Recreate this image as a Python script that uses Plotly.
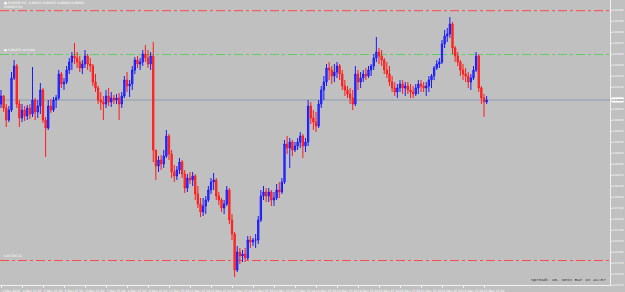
import plotly.graph_objects as go

# ---- data (EURGBP H1-style, 2-hour bars) ----
opens = [0.8896,0.8904,0.8892,0.8880,0.8890,0.8922,0.8934,0.8896,0.8882,0.8890,
0.8884,0.8892,0.8886,0.8900,0.8888,0.8894,0.8910,0.8880,0.8872,0.8894,
0.8890,0.8900,0.8902,0.8926,0.8916,0.8918,0.8930,0.8938,0.8944,0.8942,
0.8938,0.8932,0.8936,0.8944,0.8936,0.8934,0.8918,0.8912,0.8900,0.8898,
0.8896,0.8904,0.8898,0.8902,0.8900,0.8902,0.8896,0.8904,0.8920,0.8914,
0.8916,0.8930,0.8940,0.8936,0.8938,0.8946,0.8942,0.8936,0.8944,0.8850,
0.8834,0.8840,0.8836,0.8844,0.8864,0.8846,0.8828,0.8824,0.8830,0.8838,
0.8826,0.8812,0.8822,0.8820,0.8824,0.8806,0.8796,0.8788,0.8794,0.8800,
0.8810,0.8818,0.8820,0.8804,0.8800,0.8792,0.8796,0.8810,0.8780,0.8766,
0.8730,0.8748,0.8744,0.8746,0.8742,0.8760,0.8758,0.8760,0.8760,0.8780,
0.8804,0.8808,0.8804,0.8808,0.8800,0.8802,0.8810,0.8808,0.8818,0.8856,
0.8852,0.8858,0.8850,0.8854,0.8858,0.8864,0.8854,0.8858,0.8894,0.8882,
0.8878,0.8874,0.8896,0.8910,0.8918,0.8932,0.8930,0.8924,0.8928,0.8934,
0.8926,0.8914,0.8910,0.8906,0.8902,0.8896,0.8926,0.8918,0.8922,0.8926,
0.8924,0.8930,0.8934,0.8942,0.8948,0.8944,0.8940,0.8930,0.8926,0.8918,
0.8912,0.8908,0.8912,0.8916,0.8912,0.8914,0.8910,0.8908,0.8906,0.8912,
0.8916,0.8914,0.8912,0.8914,0.8920,0.8924,0.8932,0.8936,0.8938,0.8956,
0.8964,0.8966,0.8976,0.8952,0.8944,0.8938,0.8930,0.8926,0.8924,0.8918,
0.8922,0.8930,0.8944,0.8912,0.8902,0.8898]

closes = [0.8904,0.8892,0.8880,0.8890,0.8922,0.8934,0.8896,0.8882,0.8890,0.8884,
0.8892,0.8886,0.8900,0.8888,0.8894,0.8910,0.8880,0.8872,0.8894,0.8890,
0.8900,0.8902,0.8926,0.8916,0.8918,0.8930,0.8938,0.8944,0.8942,0.8938,
0.8932,0.8936,0.8944,0.8936,0.8934,0.8918,0.8912,0.8900,0.8898,0.8896,
0.8904,0.8898,0.8902,0.8900,0.8902,0.8896,0.8904,0.8920,0.8914,0.8916,
0.8930,0.8940,0.8936,0.8938,0.8946,0.8942,0.8936,0.8944,0.8850,0.8834,
0.8840,0.8836,0.8844,0.8864,0.8846,0.8828,0.8824,0.8830,0.8838,0.8826,
0.8812,0.8822,0.8820,0.8824,0.8806,0.8796,0.8788,0.8794,0.8800,0.8810,
0.8818,0.8820,0.8804,0.8800,0.8792,0.8796,0.8810,0.8780,0.8766,0.8730,
0.8748,0.8744,0.8746,0.8742,0.8760,0.8758,0.8760,0.8760,0.8780,0.8804,
0.8808,0.8804,0.8808,0.8800,0.8802,0.8810,0.8808,0.8818,0.8856,0.8852,
0.8858,0.8850,0.8854,0.8858,0.8864,0.8854,0.8858,0.8894,0.8882,0.8878,
0.8874,0.8896,0.8910,0.8918,0.8932,0.8930,0.8924,0.8928,0.8934,0.8926,
0.8914,0.8910,0.8906,0.8902,0.8896,0.8926,0.8918,0.8922,0.8926,0.8924,
0.8930,0.8934,0.8942,0.8948,0.8944,0.8940,0.8930,0.8926,0.8918,0.8912,
0.8908,0.8912,0.8916,0.8912,0.8914,0.8910,0.8908,0.8906,0.8912,0.8916,
0.8914,0.8912,0.8914,0.8920,0.8924,0.8932,0.8936,0.8938,0.8956,0.8964,
0.8966,0.8976,0.8952,0.8944,0.8938,0.8930,0.8926,0.8924,0.8918,0.8922,
0.8930,0.8944,0.8912,0.8902,0.8898,0.8900]

highs = [0.8910,0.8905,0.8896,0.8894,0.8928,0.8940,0.8936,0.8900,0.8896,0.8894,
0.8895,0.8896,0.8933,0.8902,0.8900,0.8917,0.8912,0.8883,0.8900,0.8901,
0.8903,0.8905,0.8930,0.8928,0.8922,0.8934,0.8942,0.8948,0.8957,0.8948,
0.8944,0.8940,0.8950,0.8946,0.8942,0.8936,0.8926,0.8914,0.8908,0.8904,
0.8910,0.8912,0.8908,0.8905,0.8906,0.8907,0.8908,0.8924,0.8928,0.8920,
0.8934,0.8943,0.8944,0.8942,0.8950,0.8955,0.8950,0.8948,0.8958,0.8850,
0.8844,0.8845,0.8850,0.8870,0.8866,0.8850,0.8835,0.8834,0.8842,0.8840,
0.8830,0.8826,0.8828,0.8828,0.8826,0.8814,0.8802,0.8802,0.8804,0.8814,
0.8822,0.8827,0.8822,0.8808,0.8802,0.8800,0.8814,0.8812,0.8786,0.8768,
0.8754,0.8752,0.8750,0.8752,0.8764,0.8764,0.8762,0.8766,0.8784,0.8810,
0.8814,0.8812,0.8812,0.8810,0.8808,0.8816,0.8818,0.8822,0.8860,0.8864,
0.8862,0.8860,0.8858,0.8862,0.8868,0.8866,0.8862,0.8900,0.8898,0.8890,
0.8888,0.8900,0.8914,0.8924,0.8936,0.8938,0.8934,0.8936,0.8938,0.8936,
0.8930,0.8920,0.8914,0.8912,0.8910,0.8934,0.8930,0.8928,0.8930,0.8932,
0.8934,0.8936,0.8946,0.8963,0.8952,0.8950,0.8942,0.8938,0.8934,0.8924,
0.8918,0.8916,0.8920,0.8920,0.8918,0.8918,0.8916,0.8914,0.8916,0.8920,
0.8920,0.8918,0.8918,0.8924,0.8926,0.8934,0.8940,0.8942,0.8960,0.8970,
0.8972,0.8983,0.8978,0.8954,0.8948,0.8940,0.8936,0.8932,0.8928,0.8926,
0.8934,0.8948,0.8946,0.8914,0.8906,0.8904]

lows = [0.8892,0.8888,0.8873,0.8878,0.8888,0.8920,0.8892,0.8873,0.8878,0.8879,
0.8880,0.8881,0.8883,0.8880,0.8882,0.8886,0.8877,0.8843,0.8870,0.8887,
0.8888,0.8892,0.8900,0.8912,0.8910,0.8916,0.8926,0.8930,0.8936,0.8932,
0.8928,0.8926,0.8932,0.8930,0.8928,0.8914,0.8908,0.8896,0.8890,0.8880,
0.8892,0.8894,0.8893,0.8896,0.8896,0.8880,0.8892,0.8902,0.8908,0.8903,
0.8910,0.8926,0.8932,0.8930,0.8934,0.8938,0.8932,0.8930,0.8838,0.8820,
0.8828,0.8830,0.8832,0.8842,0.8840,0.8822,0.8818,0.8820,0.8826,0.8822,
0.8807,0.8808,0.8816,0.8814,0.8800,0.8792,0.8783,0.8784,0.8786,0.8798,
0.8806,0.8810,0.8800,0.8795,0.8788,0.8786,0.8794,0.8776,0.8760,0.8723,
0.8728,0.8736,0.8738,0.8738,0.8740,0.8752,0.8754,0.8752,0.8756,0.8778,
0.8800,0.8798,0.8798,0.8794,0.8794,0.8800,0.8802,0.8806,0.8816,0.8846,
0.8832,0.8844,0.8848,0.8850,0.8852,0.8842,0.8848,0.8854,0.8876,0.8870,
0.8868,0.8872,0.8892,0.8900,0.8914,0.8920,0.8916,0.8918,0.8922,0.8920,
0.8910,0.8904,0.8902,0.8896,0.8890,0.8894,0.8910,0.8912,0.8918,0.8920,
0.8922,0.8924,0.8930,0.8938,0.8936,0.8934,0.8926,0.8922,0.8914,0.8908,
0.8904,0.8902,0.8908,0.8906,0.8904,0.8906,0.8902,0.8902,0.8904,0.8906,
0.8908,0.8908,0.8904,0.8908,0.8912,0.8920,0.8930,0.8932,0.8936,0.8952,
0.8958,0.8962,0.8946,0.8938,0.8934,0.8924,0.8920,0.8918,0.8912,0.8910,
0.8920,0.8928,0.8908,0.8896,0.8883,0.8896]

bar_index = list(range(len(closes)))

time_labels = ["4 May 2020", "4 May 23:00", "5 May 15:00", "6 May 07:00", "6 May 23:00",
               "7 May 15:00", "8 May 07:00", "8 May 23:00", "11 May 15:00", "12 May 07:00",
               "12 May 23:00", "13 May 15:00", "14 May 07:00", "14 May 23:00", "15 May 15:00",
               "18 May 07:00", "18 May 23:00", "19 May 15:00", "20 May 07:00", "20 May 23:00",
               "21 May 15:00", "22 May 07:00", "22 May 23:00", "25 May 15:00"]
time_label_bars = [0, 8, 16, 24, 32, 40, 48, 56, 64, 72, 80, 88, 96, 104, 112,
                   120, 128, 136, 144, 152, 160, 168, 176, 184]

price_ticks = [0.8990, 0.8979, 0.8968, 0.8957, 0.8946, 0.8935, 0.8924, 0.8913, 0.8902,
               0.8891, 0.8880, 0.8869, 0.8858, 0.8847, 0.8836, 0.8825, 0.8814, 0.8803,
               0.8792, 0.8781, 0.8770, 0.8759, 0.8748, 0.8737, 0.8726, 0.8715]
price_tick_text = [f"{v:.5f}" for v in price_ticks]

resistance_level = 0.89893
reference_level = 0.89455
support_level = 0.87395
current_price = closes[-1]

title_text = "■ EURGBP,H1  0.89021 0.89035 0.88990 0.89003"
res_label = "0.89893 R1"
ref_label = "● 0.89455 ref 0.00"
sup_label = "0.87395 S1"
status_text = "Spread: 10. Next Bar in 41:07"

# ---- figure ----
BG = "#c0c0c0"
fig = go.Figure()
fig.add_trace(go.Candlestick(
    x=bar_index, open=opens, high=highs, low=lows, close=closes,
    increasing=dict(line=dict(color="#1a1aff", width=1), fillcolor="#3b3bff"),
    decreasing=dict(line=dict(color="#ff1a1a", width=1), fillcolor="#ff3b3b"),
    whiskerwidth=0, showlegend=False, hoverinfo="skip"))

x_lo, x_hi = -0.38, 232.0

def hline(y, color, dash):
    fig.add_shape(type="line", xref="paper", x0=0, x1=1, yref="y", y0=y, y1=y,
                  line=dict(color=color, width=1, dash=dash), layer="below")

hline(resistance_level, "#ff4a4a", "dashdot")
hline(reference_level, "#5fcf5f", "dashdot")
hline(support_level, "#ff4a4a", "dashdot")
hline(current_price, "#8c98b0", "solid")

small = dict(family="DejaVu Sans", size=3.2, color="#ffffff")
fig.add_annotation(xref="paper", yref="paper", x=0.003, y=1.0, xanchor="left", yanchor="top",
                   yshift=1, text=title_text, showarrow=False, font=small)
fig.add_annotation(xref="paper", yref="y", x=0.004, y=resistance_level, xanchor="left",
                   yanchor="bottom", yshift=0, text=res_label, showarrow=False, font=small)
fig.add_annotation(xref="paper", yref="y", x=0.004, y=reference_level, xanchor="left",
                   yanchor="bottom", yshift=1, text=ref_label, showarrow=False, font=small)
fig.add_annotation(xref="paper", yref="y", x=0.004, y=support_level, xanchor="left",
                   yanchor="bottom", yshift=1, text=sup_label, showarrow=False, font=small)
fig.add_annotation(xref="paper", yref="paper", x=0.997, y=0.0, xanchor="right", yanchor="bottom",
                   yshift=1, text=status_text, showarrow=False,
                   font=dict(family="Liberation Mono", size=4.3, color="#2a2a2a"))
fig.add_annotation(xref="paper", yref="y", x=1.0, y=current_price, xanchor="left", yanchor="middle",
                   xshift=1, text=f"{current_price:.5f}", showarrow=False, bgcolor="#ffffff",
                   borderpad=0, font=dict(family="DejaVu Sans", size=2.7, color="#404040"))

fig.update_layout(
    width=625, height=292,
    margin=dict(l=0, r=15, t=0, b=7, autoexpand=False),
    paper_bgcolor=BG, plot_bgcolor=BG,
    showlegend=False,
    xaxis=dict(range=[x_lo, x_hi], rangeslider=dict(visible=False), showgrid=False,
               zeroline=False, tickmode="array", tickvals=time_label_bars, ticktext=time_labels,
               tickangle=0, automargin=False,
               ticks="outside", ticklen=2, tickcolor="#f0f0f0", showline=True,
               linecolor="#f0f0f0", linewidth=1, ticklabelshift=10, ticklabelstandoff=0,
               tickfont=dict(family="DejaVu Sans", size=3.0, color="#ffffff")),
    yaxis=dict(range=[0.8715, 0.9000], side="right", showgrid=False, zeroline=False,
               tickmode="array", tickvals=price_ticks, ticktext=price_tick_text,
               automargin=False,
               ticks="outside", ticklen=1, tickcolor="#f0f0f0", showline=True,
               linecolor="#f0f0f0", linewidth=1, ticklabelstandoff=0,
               tickfont=dict(family="DejaVu Sans", size=2.7, color="#ffffff")),
)

fig.write_html("out.html")
